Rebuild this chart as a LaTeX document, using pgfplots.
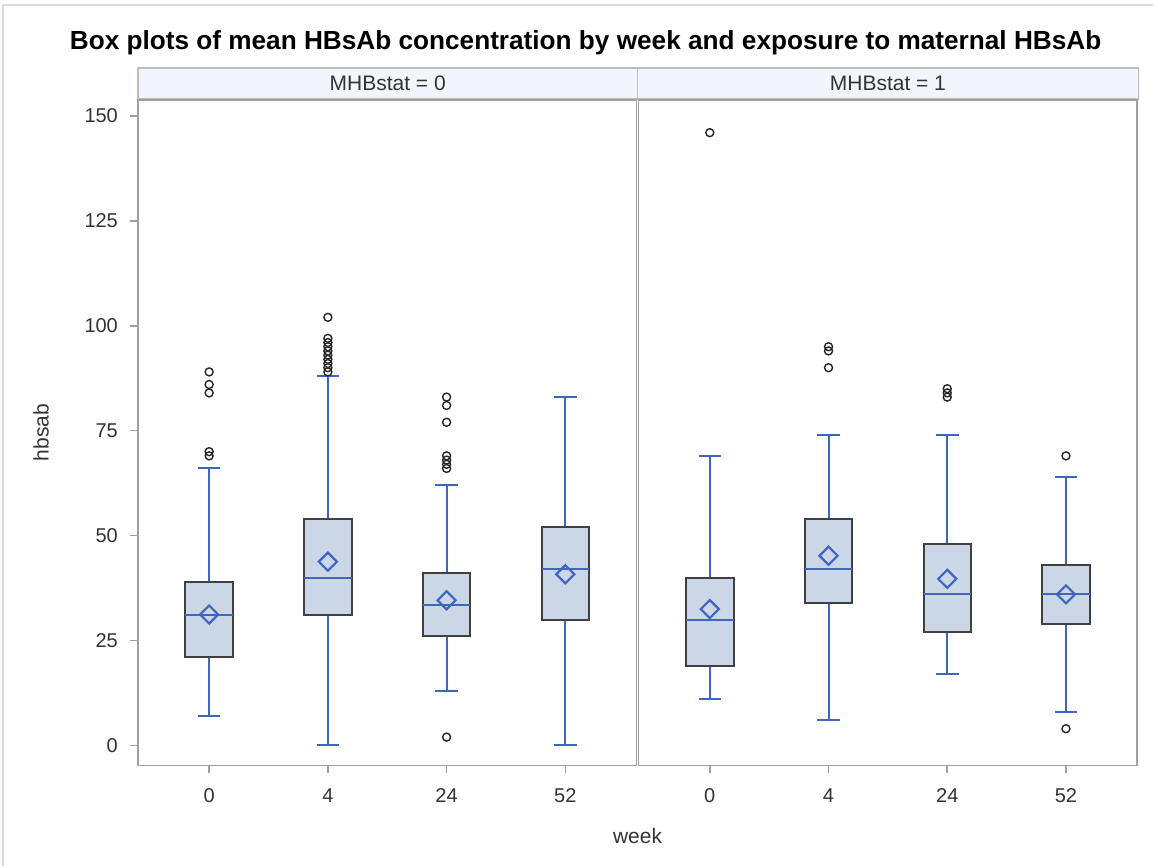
\documentclass[border=0pt]{standalone}
\usepackage{fontspec}
\setmainfont{Liberation Sans}
\usepackage{pgfplots}
\pgfplotsset{compat=1.18}
\usepgfplotslibrary{statistics}
\definecolor{sasblue}{HTML}{3F65C3}
\definecolor{boxfill}{HTML}{CBD6E6}
\definecolor{framegray}{HTML}{A0A0A0}
\definecolor{headfill}{HTML}{F2F5FB}
\definecolor{textgray}{HTML}{333333}

\pgfplotsset{
  panel/.style={
    scale only axis,
    width=249.5pt, height=333pt,
    ymin=-4.76, ymax=153.8,
    xmin=-0.6, xmax=3.6,
    xtick={0,1,2,3}, xticklabels={0,4,24,52},
    axis line style={framegray, line width=0.8pt},
    tick style={framegray, line width=0.8pt},
    tick align=outside, major tick length=4pt,
    xtick pos=bottom, ytick pos=left,
    /pgf/number format/assume math mode=true,
    tick label style={font=\fontsize{10}{12}\selectfont, text=textgray},
    xticklabel style={yshift=-4pt},
    yticklabel style={xshift=-2.5pt},
    clip=false,
    boxplot/draw direction=y,
    boxplot/box extend=0.4,
    boxplot/whisker extend=0.19,
    boxplot/every box/.style={draw=black!75, fill=boxfill, line width=1pt},
    boxplot/every whisker/.style={draw=sasblue, line width=1pt},
    boxplot/every median/.style={draw=sasblue, line width=1pt},
  },
  bx/.style={sasblue, line width=1pt, mark=o, mark size=2pt,
    mark options={draw=black!85, solid, line width=0.7pt}},
  meanmk/.style={only marks, mark=square, mark size=3.2pt,
    mark options={draw=sasblue, rotate=45, line width=1.1pt, solid}},
}

\begin{document}
\begin{tikzpicture}
\fill[white] (0pt,0pt) rectangle (577pt,433.5pt);
\draw[gray!30, line width=0.8pt] (1.5pt,0pt) -- (1.5pt,431pt) -- (577pt,431pt);
\node[font=\bfseries\fontsize{13.1}{15}\selectfont] at (293pt,412pt)
  {Box plots of mean HBsAb concentration by week and exposure to maternal HBsAb};
\draw[framegray!70, fill=headfill, line width=0.6pt] (69pt,384pt) rectangle (319pt,399.5pt);
\draw[framegray!70, fill=headfill, line width=0.6pt] (319pt,384pt) rectangle (569.5pt,399.5pt);
\node[font=\fontsize{10.5}{12}\selectfont, text=textgray] at (194pt,391.75pt) {MHBstat = 0};
\node[font=\fontsize{10.5}{12}\selectfont, text=textgray] at (444.25pt,391.75pt) {MHBstat = 1};
\node[font=\fontsize{10.5}{12}\selectfont, text=textgray] at (319pt,15pt) {week};

% Panel MHBstat = 0
\begin{axis}[panel, at={(69pt,50.5pt)}, anchor=south west,
  ytick={0,25,50,75,100,125,150},
  ylabel={hbsab}, ylabel shift=11pt,
  ylabel style={font=\fontsize{10.5}{12}\selectfont, text=textgray}]
\addplot[bx, boxplot prepared={draw position=0, lower whisker=7, lower quartile=21,
  median=31, upper quartile=39, upper whisker=66}]
  table[row sep=\\, y index=0]{69\\70\\84\\86\\89\\};
\addplot[bx, boxplot prepared={draw position=1, lower whisker=0, lower quartile=31,
  median=40, upper quartile=54, upper whisker=88}]
  table[row sep=\\, y index=0]{89\\90\\91\\92\\93\\94\\95\\96\\97\\102\\};
\addplot[bx, boxplot prepared={draw position=2, lower whisker=13, lower quartile=26,
  median=33.4, upper quartile=41, upper whisker=62}]
  table[row sep=\\, y index=0]{2\\66\\67\\68\\69\\77\\81\\83\\};
\addplot[bx, boxplot prepared={draw position=3, lower whisker=0, lower quartile=30,
  median=42, upper quartile=52, upper whisker=83}]
  coordinates {};
\addplot[meanmk] coordinates {(0,31.2) (1,43.8) (2,34.6) (3,40.8)};
\end{axis}

% Panel MHBstat = 1
\begin{axis}[panel, at={(319.5pt,50.5pt)}, anchor=south west, ytick=\empty]
\addplot[bx, boxplot prepared={draw position=0, lower whisker=11, lower quartile=19,
  median=30, upper quartile=40, upper whisker=69}]
  table[row sep=\\, y index=0]{146\\};
\addplot[bx, boxplot prepared={draw position=1, lower whisker=6, lower quartile=34,
  median=42, upper quartile=54, upper whisker=74}]
  table[row sep=\\, y index=0]{90\\94\\95\\};
\addplot[bx, boxplot prepared={draw position=2, lower whisker=17, lower quartile=27,
  median=36, upper quartile=48, upper whisker=74}]
  table[row sep=\\, y index=0]{83\\84\\85\\};
\addplot[bx, boxplot prepared={draw position=3, lower whisker=8, lower quartile=29,
  median=36, upper quartile=43, upper whisker=64}]
  table[row sep=\\, y index=0]{4\\69\\};
\addplot[meanmk] coordinates {(0,32.5) (1,45.2) (2,39.7) (3,36)};
\end{axis}
\end{tikzpicture}
\end{document}
